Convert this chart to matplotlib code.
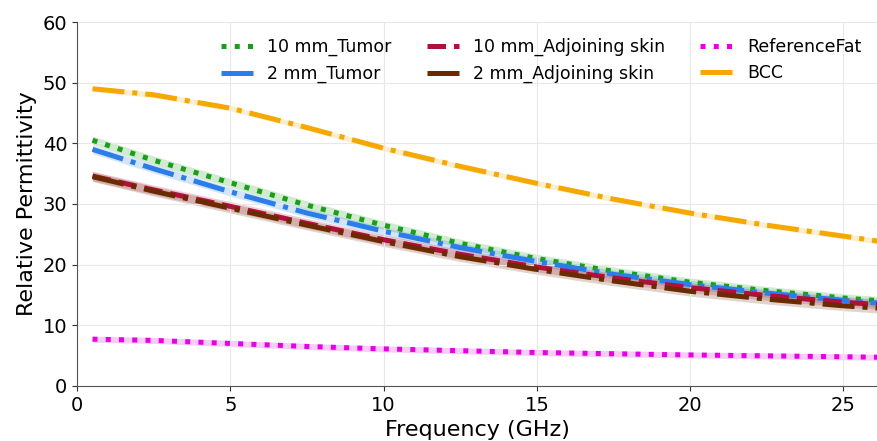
import numpy as np
import matplotlib.pyplot as plt

# frequency samples (GHz)
freq = np.array([0.5, 2.5, 5, 7.5, 10, 12.5, 15, 17.5, 20, 22.5, 25, 26.5])

tumor_10 = np.array([40.5, 37.2, 33.5, 29.8, 26.5, 23.5, 21.0, 18.9, 17.1, 15.7, 14.5, 13.9])
tumor_2 = np.array([39.0, 35.8, 32.0, 28.5, 25.5, 22.8, 20.5, 18.4, 16.7, 15.3, 14.1, 13.5])
adj_10 = np.array([34.6, 32.3, 29.6, 26.8, 24.1, 21.7, 19.6, 17.8, 16.2, 14.9, 13.8, 13.3])
adj_2 = np.array([34.5, 32.1, 29.3, 26.5, 23.8, 21.3, 19.2, 17.3, 15.6, 14.3, 13.2, 12.7])
ref_fat = np.array([7.7, 7.5, 7.0, 6.5, 6.1, 5.8, 5.5, 5.3, 5.1, 4.95, 4.8, 4.7])
bcc = np.array([49.0, 48.0, 45.8, 42.6, 39.2, 36.2, 33.4, 30.8, 28.5, 26.5, 24.7, 23.6])

series = [
    ("10 mm_Tumor", tumor_10, "#1a9e1a", ":", 0.7),
    ("2 mm_Tumor", tumor_2, "#2b7de9", "-.", 0.7),
    ("10 mm_Adjoining skin", adj_10, "#b0103a", "--", 0.8),
    ("2 mm_Adjoining skin", adj_2, "#6b2a00", "-.", 0.8),
    ("ReferenceFat", ref_fat, "#e600e6", ":", 0.5),
    ("BCC", bcc, "#f5a800", "-.", 0.45),
]

fig, ax = plt.subplots(figsize=(8.77, 4.41), dpi=100)
fig.subplots_adjust(left=0.088, right=1.0, top=0.95, bottom=0.125)

for name, vals, col, ls, spread in series:
    ax.fill_between(freq, vals - spread, vals + spread, color=col, alpha=0.2, lw=0)
    ax.plot(freq, vals, color=col, ls=ls, lw=3.6, label=name)

ax.set_xlim(0, 26.1)
ax.set_ylim(0, 60)
ax.set_xticks([0, 5, 10, 15, 20, 25])
ax.set_yticks([0, 10, 20, 30, 40, 50, 60])
ax.tick_params(labelsize=14, colors="#333333", labelcolor="black")
ax.grid(True, color="#e8e8e8", lw=0.8)
ax.spines["top"].set_visible(False)
ax.spines["right"].set_visible(False)
ax.spines["left"].set_color("#555555")
ax.spines["bottom"].set_color("#555555")
ax.set_xlabel("Frequency (GHz)", fontsize=16)
ax.set_ylabel("Relative Permittivity", fontsize=16)
ax.legend(ncol=3, frameon=False, fontsize=12.5, loc="upper right",
          bbox_to_anchor=(1.0, 1.0), columnspacing=2.0, handlelength=1.85,
          handletextpad=0.85)

plt.savefig("out.png", dpi=100)
